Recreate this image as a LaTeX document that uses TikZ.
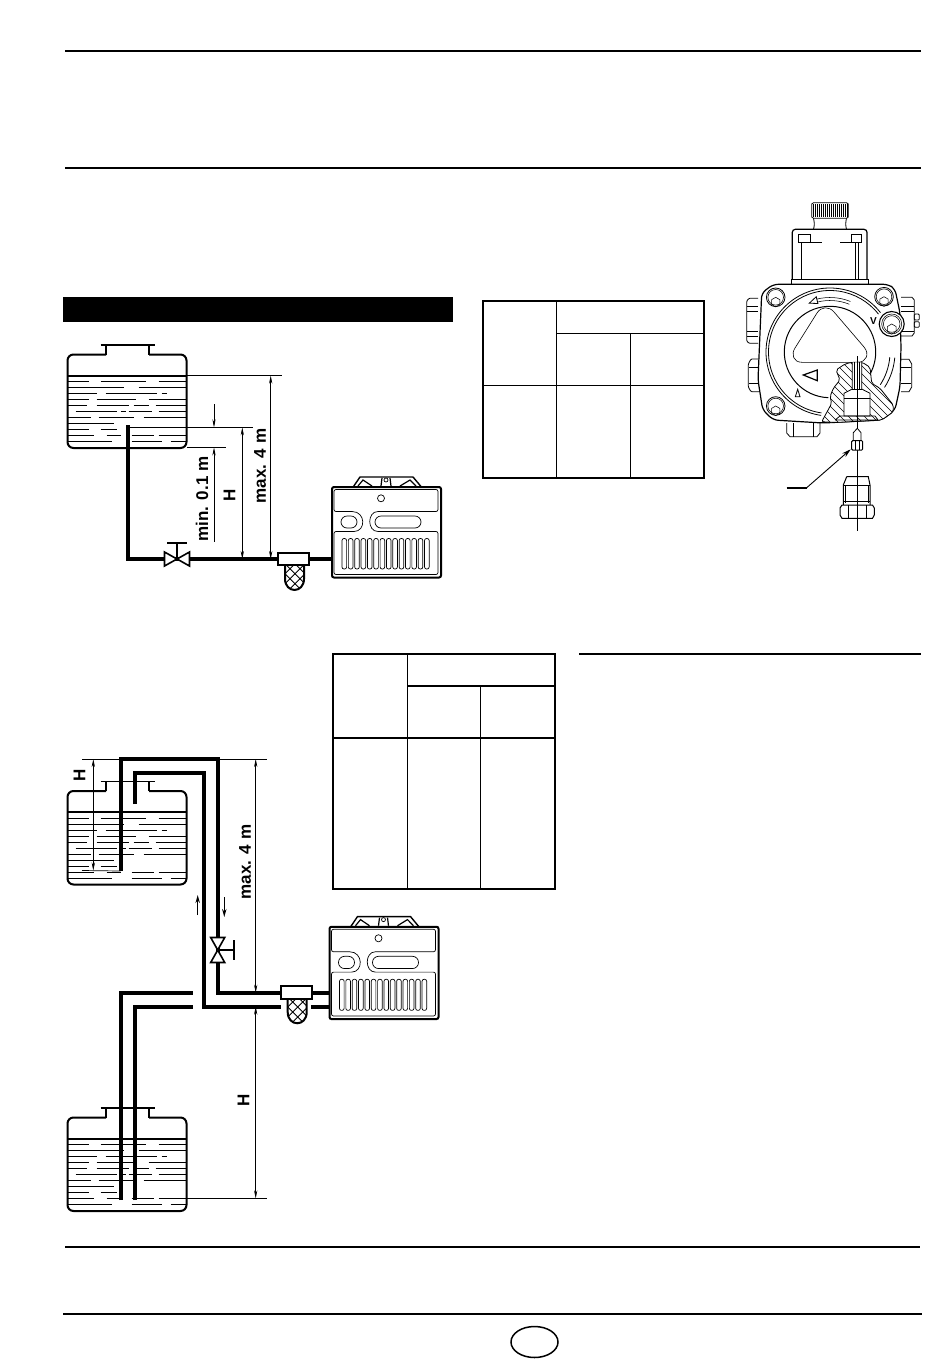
\documentclass[tikz,border=0pt]{standalone}
\usepackage{fontspec}
\setmainfont{Liberation Sans}
\usetikzlibrary{arrows.meta}
\tikzstyle{rule}=[draw, line width=2pt]
\tikzstyle{tableframe}=[draw, line width=2.4pt]
\tikzstyle{tablegrid}=[draw, line width=1.2pt]
\tikzstyle{tankwall}=[draw, line width=2pt, rounded corners=6pt]
\tikzstyle{oilline}=[draw, line width=0.8pt]
\tikzstyle{pipe}=[draw, line width=3.7pt]
\tikzstyle{fitting}=[draw, line width=1.6pt, fill=white]
\tikzstyle{dimline}=[draw, line width=0.6pt, <->, >={Stealth[length=8pt,width=3.2pt]}]
\tikzstyle{refline}=[draw, line width=0.7pt]
\tikzstyle{flowarrow}=[draw, line width=1.1pt, ->, >={Stealth[length=8pt,width=4.4pt]}]
\tikzstyle{dimtext}=[font=\fontsize{17}{17}\selectfont\bfseries, inner sep=0pt, rotate=90]
\tikzstyle{unitline}=[draw, line width=0.7pt]
\tikzstyle{pumpline}=[draw, line width=0.8pt]
\tikzstyle{boltline}=[draw, line width=0.55pt]
\tikzstyle{hatchline}=[draw, line width=0.45pt]
% oil tank, origin at the top left corner of the wall
\newcommand{\oiltank}[1]{
  \begin{scope}[shift={(67.5,#1)}]
  \draw [style=tankwall] (38.5,0) -- (0,0) -- (0,93.5) -- (119,93.5) -- (119,0) -- (81.5,0);
  \draw [style=tankwall, rounded corners=0pt] (38.5,0) -- (38.5,-9.5) (81.5,0) -- (81.5,-9.5);
  \draw [style=rule, line width=1.6pt] (33,-9.5) -- (87,-9.5);
  \draw [style=rule] (0,21) -- (119,21);
  \foreach \ly/\la/\lb in {27/0/21, 27/33/78, 27/91/119, 33/0/56, 33/71/119, 39/0/29, 39/38/89,
      39/94/99, 45/0/21, 45/29/68, 45/81/119, 51/0/19, 51/29/61, 51/66/81, 51/88/119, 57/8/49,
      57/53/58, 57/61/84, 57/91/119, 63/0/23, 63/31/66, 63/76/119, 69/0/46, 75/0/21, 75/33/49,
      81/0/26, 81/39/53, 81/64/86, 81/91/119, 87/0/44, 87/64/94, 87/103/118}
    \draw [style=oilline] (\la,\ly) -- (\lb,\ly);
  \end{scope}
}
% burner unit, drawn at the place of the upper one
\newcommand{\burnerunit}[1]{
  \begin{scope}[#1]
  \draw [style=rule, rounded corners=2pt] (332,487) rectangle (441,577.5);
  \draw [style=unitline, rounded corners=2pt] (352,511.5) -- (334,511.5) -- (334,489.5) -- (438,489.5)
        -- (438,511.5) -- (380,511.5) .. controls (367,511.5) and (367,531.5) .. (380,531.5)
        -- (438,531.5) -- (438,574.5) -- (334,574.5) -- (334,531.5) -- (352,531.5)
        .. controls (366,531.5) and (366,511.5) .. (352,511.5);
  \draw [style=unitline, rounded corners=6pt] (341,516) rectangle (357,528);
  \draw [style=unitline, rounded corners=6pt] (375,516) rectangle (421,528);
  \draw [style=unitline] (381,498.3) circle (3.5);
  \foreach \k in {0,...,13}
    \draw [style=unitline, rounded corners=2pt] ({342+6.35*\k},538.5) rectangle ++(4.6,30.5);
  \draw [style=rule, line width=1.4pt] (353.5,486.5) -- (360,477) -- (413,477) -- (421,486.5);
  \draw [style=unitline, line width=1.2pt] (358,486) -- (363,480) -- (372,486)
        (381,486) -- (382,478) (390,478) -- (391,486) (400,486) -- (410,480) -- (416,486);
  \draw [style=unitline] (386,480) circle (2);
  \end{scope}
}
% filter with its cup, origin at the top left corner of the head
\newcommand{\oilfilter}[1]{
  \begin{scope}[shift={#1}]
  \begin{scope}
  \clip (7,12) -- (7,26) .. controls (7,41) and (26,41) .. (26,26) -- (26,12) -- cycle;
  \foreach \i in {-32,-22,...,28} {
    \draw [style=hatchline, line width=0.8pt] (\i,12) -- ++(30,30);
    \draw [style=hatchline, line width=0.8pt] (\i+8,12) -- ++(-30,30);
  }
  \end{scope}
  \draw [style=rule] (7,12) -- (7,26) .. controls (7,41) and (26,41) .. (26,26) -- (26,12);
  \draw [style=fitting, line width=2pt] (0,0) rectangle (31,12.5);
  \end{scope}
}
% shut-off valve on its pipe
\newcommand{\oilvalve}[1]{
  \begin{scope}[#1]
  \draw [style=fitting] (-12.5,-7) -- (0,0) -- (-12.5,7) -- cycle;
  \draw [style=fitting] (12.5,-7) -- (0,0) -- (12.5,7) -- cycle;
  \draw [style=fitting] (0,0) -- (0,-16) (-10,-16) -- (10,-16);
  \end{scope}
}
% cut part of the pump body
\newcommand{\pumpcut}{(821.7,421.7) -- (831.7,403.3) -- (830,396.7) -- (833.3,388.3) -- (840,380)
  -- (836,370) -- (845,364) -- (851.7,362.3) -- (862.3,362.3) -- (870,367.3) -- (871.7,383.3)
  -- (880,388.3) -- (893.3,405) -- (893.3,411.7) -- (881.7,420) -- (835,422.5) -- cycle}

\begin{document}
\begin{tikzpicture}[x=1pt, y=-1pt]
  \useasboundingbox (0,0) rectangle (950,1360);

  % page rules
  \draw [style=rule] (65,51) -- (921,51);
  \draw [style=rule] (65,168) -- (921,168);
  \draw [style=rule] (579,654) -- (921,654);
  \draw [style=rule] (65,1247) -- (920,1247);
  \draw [style=rule] (63,1314) -- (922,1314);
  \draw [line width=1.5pt] (534.5,1342) ellipse (23.5 and 15.5);
  \fill (63,297) rectangle (453,322);

  % first table
  \draw [style=tableframe] (483,301) rectangle (704,478);
  \draw [style=tablegrid] (556.5,301) -- (556.5,478);
  \draw [style=tablegrid] (630.5,333.5) -- (630.5,478);
  \draw [style=tablegrid] (556.5,333.5) -- (704,333.5);
  \draw [style=tablegrid] (483,385.5) -- (704,385.5);

  % second table
  \draw [style=tableframe] (333,654) rectangle (555,889);
  \draw [style=tablegrid] (407.5,654) -- (407.5,889);
  \draw [style=tablegrid] (480.5,686) -- (480.5,889);
  \draw [style=tablegrid] (407.5,686) -- (555,686);
  \draw [style=tablegrid] (333,738) -- (555,738);

  % upper installation, one pipe
  \oiltank{354.5}
  \burnerunit{}
  \coordinate (intakeone) at (127.7,425);
  \coordinate (feedone) at (332,559);
  \draw [style=pipe] (intakeone) |- (feedone);
  \oilvalve{shift={(177,559)}}
  \oilfilter{(278,552.7)}

  \coordinate (levelone) at (187,375.7);
  \coordinate (levelend) at (282,375.7);
  \coordinate (intakeend) at (253,427.3);
  \coordinate (bottomone) at (187,447.5);
  \coordinate (bottomend) at (226,447.5);
  \coordinate (maxtop) at (270.7,375.7);
  \coordinate (maxlow) at (270.7,559);
  \coordinate (htop) at (242.3,427.3);
  \coordinate (hlow) at (242.3,559);
  \draw [style=refline] (levelone) -- (levelend);
  \draw [style=refline] (intakeone |- intakeend) -- (intakeend);
  \draw [style=refline] (bottomone) -- (bottomend);
  \draw [style=dimline] (maxtop) -- (maxlow);
  \draw [style=dimline] (htop) -- (hlow);
  \coordinate (mintop) at (214,404);
  \coordinate (minarrow) at (214,427.3);
  \coordinate (minback) at (214,447.5);
  \coordinate (minlow) at (214,541.7);
  \draw [style=dimline, <-] (minarrow) -- (mintop);
  \draw [style=dimline, <-] (minback) -- (minlow);
  \node (minlabel) [style=dimtext] at (202,499) {min. 0.1 m};
  \node (hlabel) [style=dimtext] at (229.5,495.5) {H};
  \node (maxlabel) [style=dimtext] at (260,466) {max. 4 m};

  % lower installation, two pipes
  \oiltank{791}
  \oiltank{1117.5}
  \burnerunit{shift={(-2.5,430)}, yscale=1.02}
  \coordinate (suctop) at (120.7,871);
  \coordinate (sucbend) at (217.7,759);
  \coordinate (sucend) at (329,992.7);
  \coordinate (rettop) at (135,804);
  \coordinate (retbend) at (203.7,772.7);
  \coordinate (retend) at (281,1006.7);
  \coordinate (retburner) at (311,1006.7);
  \coordinate (retunit) at (329,1006.7);
  \coordinate (lowsuc) at (120.7,1200);
  \coordinate (lowsucend) at (192.5,992.7);
  \coordinate (lowret) at (135,1200);
  \coordinate (lowretend) at (192.5,1006.7);
  \draw [style=pipe] (suctop) |- (sucbend) |- (sucend);
  \draw [style=pipe] (rettop) |- (retbend) |- (retend);
  \draw [style=pipe] (retburner) -- (retunit);
  \draw [style=pipe] (lowsuc) |- (lowsucend);
  \draw [style=pipe] (lowret) |- (lowretend);
  \oilvalve{shift={(217.7,950)}, rotate=-90}
  \oilfilter{(280.7,986)}

  \coordinate (liftleft) at (82,759);
  \coordinate (liftright) at (267,759);
  \coordinate (tipleft) at (82,870.5);
  \coordinate (liftdim) at (93.3,759);
  \coordinate (liftlow) at (93.3,870.5);
  \coordinate (maxdim) at (255.7,759);
  \coordinate (maxdimlow) at (255.7,992.7);
  \coordinate (hdim) at (255.7,1006.7);
  \coordinate (hdimlow) at (255.7,1198.3);
  \coordinate (lowlevel) at (187,1198.3);
  \coordinate (lowlevelend) at (267,1198.3);
  \draw [style=refline] (liftleft) -- (liftright);
  \draw [style=refline] (tipleft) -- (suctop);
  \draw [style=refline] (lowlevel) -- (lowlevelend);
  \draw [style=dimline] (liftdim) -- (liftlow);
  \draw [style=dimline] (maxdim) -- (maxdimlow);
  \draw [style=dimline] (hdim) -- (hdimlow);
  \node (hlift) [style=dimtext] at (79.5,775) {H};
  \node (maxlift) [style=dimtext] at (245,862) {max. 4 m};
  \node (hlower) [style=dimtext] at (243.5,1100) {H};
  \coordinate (upstart) at (197.7,915);
  \coordinate (upend) at (197.7,895);
  \coordinate (downstart) at (224.3,897);
  \coordinate (downend) at (224.3,917);
  \draw [style=flowarrow] (upstart) -- (upend);
  \draw [style=flowarrow] (downstart) -- (downend);

  % pump, side ports first
  \draw [style=pumpline, fill=white, rounded corners=1pt] (758,298.3) -- (749,298.3) -- (746.7,301) -- (746.7,341)
        -- (749,343.3) -- (758,343.3);
  \draw [style=pumpline] (747,306.7) -- (758,306.7) (747,311.7) -- (758,311.7)
        (747,331.7) -- (758,331.7) (747,336.7) -- (758,336.7);
  \draw [style=pumpline, fill=white, rounded corners=1pt] (759,359) -- (751,359) -- (748.3,364) -- (748.3,387)
        -- (751,391.7) -- (759,391.7);
  \draw [style=pumpline] (749,367.7) -- (759,367.7) (749,383.3) -- (759,383.3);
  \draw [style=pumpline, fill=white] (786.7,423) -- (786.7,433) -- (790,436.7) -- (817,436.7) -- (820,433) -- (820,423);
  \draw [style=pumpline] (793.3,423) -- (793.3,436.7) (813.3,423) -- (813.3,436.7);
  \draw [style=pumpline] (901,297.3) -- (912,297.3) -- (914.3,300) -- (914.3,333) -- (912,336) -- (901,336);
  \draw [style=pumpline] (901,306.7) -- (914,306.7) (901,311.7) -- (914,311.7) (901,331.7) -- (914,331.7);
  \draw [style=pumpline, rounded corners=1pt] (914.3,314) rectangle (919.3,320) (914.3,321.7) rectangle (919.3,327.3);
  \draw [style=pumpline] (901,359.3) -- (909,359.3) -- (911.7,364) -- (911.7,387) -- (909,391.7) -- (901,391.7);
  \draw [style=pumpline] (901,367.3) -- (911,367.3) (901,383) -- (911,383);

  % pump, solenoid on top
  \draw [style=pumpline, fill=white] (811.7,204) -- (813.5,202.7) -- (846.5,202.7) -- (848.3,204) -- (848.3,217)
        -- (846.5,218.3) -- (813.5,218.3) -- (811.7,217) -- cycle;
  \foreach \k in {0,...,17}
    \draw [style=hatchline] ({813+2*\k},204) -- ({813+2*\k},217);
  \draw [style=pumpline] (813.5,218.3) .. controls (814.5,222) and (814.5,226) .. (813.5,229.3);
  \draw [style=pumpline] (846.5,218.3) .. controls (845.5,222) and (845.5,226) .. (846.5,229.3);
  \draw [style=pumpline, line width=1.2pt, rounded corners=3pt] (792.3,279.3) -- (792.3,229.3) -- (867,229.3) -- (867,279.3);
  \draw [style=pumpline, line width=1.2pt] (791.7,279.3) rectangle (868.3,284.3);
  \draw [style=pumpline] (798,234) rectangle (810,242.3) (851,234) rectangle (861.7,242.3);
  \draw [style=pumpline] (798,242.3) -- (822.3,242.3) (840,242.3) -- (861.7,242.3);
  \draw [style=pumpline] (801.7,242.3) -- (801.7,279.3) (858.3,242.3) -- (858.3,279.3) (855,242.3) -- (855,279.3);

  % pump, body and dial
  \draw [style=pumpline, line width=1.2pt, fill=white, rounded corners=5pt] (773.3,284.3) -- (888.3,284.3) -- (895,289)
        -- (900,313) -- (901,346.7) -- (900,386.7) -- (895,410) -- (881.7,420) -- (823,423)
        -- (773.3,420) -- (762.7,410) -- (758,380) -- (761.7,293) -- cycle;
  \draw [style=pumpline] (830,352) ++(98:64) arc (98:322:64);
  \draw [style=pumpline] (830,352) ++(98:61.5) arc (98:322:61.5);
  \draw [style=pumpline] (830,352) ++(5:65) arc (5:33:65);
  \draw [style=pumpline] (830,352) ++(5:60) arc (5:33:60);
  \draw [style=pumpline, line width=1pt] (830,352) ++(92:45.7) arc (92:392:45.7);
  \draw [style=pumpline, line width=0.6pt] (817,313) .. controls (821,306.5) and (829,306) .. (834,312) -- (864,347)
        .. controls (870,354) and (866,362.3) .. (858,362.3) -- (802,362.3)
        .. controls (793,362.3) and (791,354) .. (795,348) -- cycle;
  \draw [style=boltline] (830,352) ++(256:51.5) arc (256:292:51.5);
  \draw [style=boltline] (830,352) ++(256:54.5) arc (256:292:54.5);
  \draw [style=pumpline, fill=white] (809.3,303.2) -- (816.2,296.7) -- (817.9,303.5) -- cycle;
  \draw [style=pumpline, line width=1.2pt] (803.3,375) -- (817.3,370) -- (817.3,380.7) -- cycle;
  \draw [style=pumpline] (797.7,389.3) -- (795.3,396.7) -- (800,396.7) -- cycle;
  \foreach \bx/\by in {775.7/297.3, 775.7/406, 884/296.7} {
    \draw [style=pumpline, fill=white] (\bx,\by) circle (9.3);
    \draw [style=boltline] (\bx,\by) circle (7.8);
    \draw [style=boltline] (\bx,\by) ++(30:4.8) -- ++(90:4.8) -- ++(150:4.8) -- ++(210:4.8) -- ++(270:4.8) -- ++(330:4.8) -- cycle;
  }
  \draw [style=pumpline, line width=1.1pt, fill=white] (891.7,324) circle (12.5);
  \draw [style=boltline] (891.7,324) circle (10);
  \draw [style=boltline] (891.7,324) circle (8.3);
  \draw [style=boltline] (891.7,324) ++(30:5) -- ++(90:5) -- ++(150:5) -- ++(210:5) -- ++(270:5) -- ++(330:5) -- cycle;
  \node (screwmark) [font=\fontsize{10}{10}\selectfont\bfseries, inner sep=0pt] at (873.5,321.5) {V};

  % pump, cut part with the nozzle holder
  \draw [style=pumpline, fill=white, rounded corners=2pt] \pumpcut;
  \begin{scope}
  \clip [rounded corners=2pt] \pumpcut;
  \foreach \i in {760,768,...,888}
    \draw [style=hatchline] (\i,360) -- ++(70,70);
  \end{scope}
  \draw [style=pumpline, fill=white] (852.3,362.3) -- (852.3,389) -- (844,393.3) -- (844,416) -- (870,416) -- (870,393.3)
        -- (861.7,389) -- (861.7,362.3);
  \draw [style=boltline] (854.3,362.3) -- (854.3,389) (859.7,362.3) -- (859.7,389);
  \draw [style=boltline] (852.3,389) -- (861.7,389) (844,398) -- (870,398);
  \draw [style=pumpline] (835,420) -- (840,416) (875,416) -- (878,420) (835,420) -- (878,420) (840,416) -- (875,416);

  % pump, nozzle and fitting on the axis
  \coordinate (axistop) at (857.3,356);
  \coordinate (axislow) at (857.3,530.7);
  \draw [style=pumpline, line width=0.6pt] (axistop) -- (axislow);
  \draw [style=pumpline, fill=white] (857.3,428.3) -- (853.3,432.7) -- (853.3,440.7) -- (861,440.7) -- (861,432.7) -- cycle;
  \draw [style=pumpline, line width=1pt, fill=white, rounded corners=1pt] (851.7,440.7) rectangle (862.7,450);
  \draw [style=boltline] (855,441) -- (855,450) (859.5,441) -- (859.5,450);
  \coordinate (leaderstart) at (786.7,487.7);
  \coordinate (leaderbend) at (806.7,487.7);
  \coordinate (leadertip) at (850.7,449.3);
  \draw [line width=1.8pt] (leaderstart) -- (leaderbend);
  \draw [line width=0.9pt, -{Stealth[length=9pt,width=5pt]}] (leaderbend) -- (leadertip);
  \draw [style=pumpline, line width=1pt] (846.7,476.7) -- (868.3,476.7) -- (870,485) -- (870,505) (846.7,476.7) -- (843.3,485) -- (843.3,505);
  \draw [style=boltline] (843.3,485) -- (870,485) (845,485) -- (845,503) (868.3,485) -- (868.3,503) (843.3,501.7) -- (870,501.7);
  \draw [style=pumpline, line width=1pt, fill=white] (842,505) -- (872.5,505) -- (874.3,508) -- (874.3,515)
        -- (872.5,518.3) -- (842,518.3) -- (840,515) -- (840,508) -- cycle;
  \draw [style=boltline] (848.3,505) -- (848.3,518.3) (866,505) -- (866,518.3);
  \draw [style=pumpline, line width=0.6pt] (857.3,476.7) -- (857.3,530.7);

\end{tikzpicture}
\end{document}
